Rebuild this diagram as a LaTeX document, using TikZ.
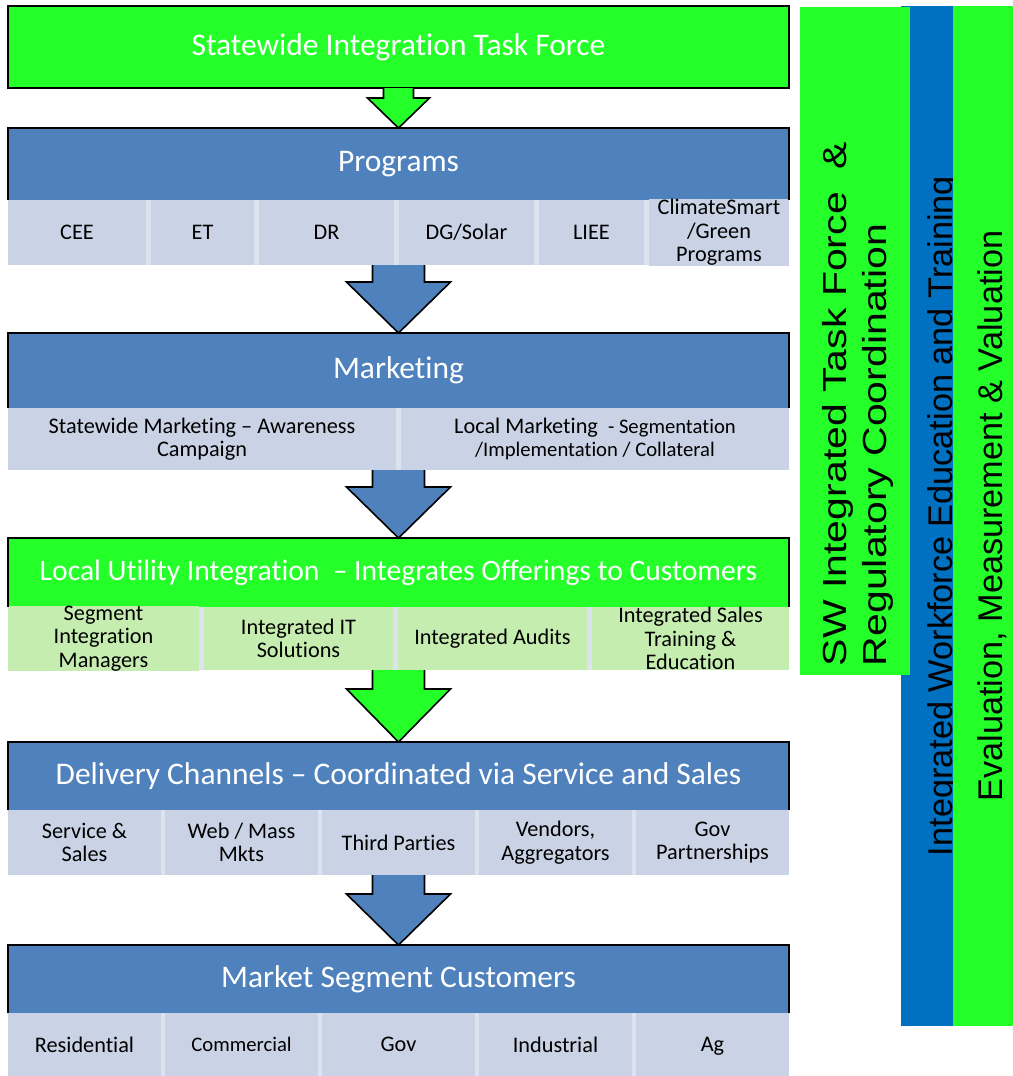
\documentclass[tikz,border=0pt]{standalone}
\usepackage{fontspec}
\setmainfont{Carlito}[Ligatures={TeX,NoCommon}]
\newfontfamily\barfont{Liberation Sans}
\newfontfamily\widebarfont[FakeStretch=1.23]{Liberation Sans}
\usetikzlibrary{calc}

\definecolor{hdrblue}{RGB}{79,129,189}
\definecolor{hdrgreen}{RGB}{36,255,42}
\definecolor{cellblue}{RGB}{202,211,229}
\definecolor{cellgreen}{RGB}{198,237,176}
\definecolor{cellgap}{RGB}{220,226,238}
\definecolor{barblue}{RGB}{0,112,192}

% block arrow: #2 row bottom, #3 box top, #4 shaft, #5 head (half widths), #6 head length
\newcommand{\blockarrow}[6]{%
\filldraw[#1] let \p1=(#2), \p2=(#3) in
  (\x2-#4*0.75pt,\y1) -- (\x2-#4*0.75pt,\y2+#6*0.75pt) -- (\x2-#5*0.75pt,\y2+#6*0.75pt)
  -- (\x2,\y2) -- (\x2+#5*0.75pt,\y2+#6*0.75pt) -- (\x2+#4*0.75pt,\y2+#6*0.75pt) -- (\x2+#4*0.75pt,\y1);}
% header frame, open at the bottom
\newcommand{\hdrframe}[1]{\draw (#1.south west) |- (#1.north east) -- (#1.south east);}

\begin{document}
\begin{tikzpicture}[x=0.75pt,y=-0.75pt,inner sep=0pt,outer sep=0pt,line width=1.2pt,
hdr/.style={fill=hdrblue,text=white,minimum width=585.75pt,minimum height=#1*0.75pt,font=\fontsize{23.6}{28}\selectfont},
cell/.style 2 args={fill=cellblue,align=center,minimum width=#1*0.75pt,minimum height=#2*0.75pt,font=\fontsize{16.7}{17.6}\selectfont},
gcell/.style 2 args={cell={#1}{#2},fill=cellgreen},
bluearrow/.style={draw=black,fill=hdrblue},
greenarrow/.style={draw=black,fill=hdrgreen},
bartext/.style={rotate=90,font=\barfont\fontsize{25.7}{30}\selectfont}]
\useasboundingbox (0,0) rectangle (1013,1076);

\draw (398.5,47) node[hdr=82,fill=hdrgreen,draw] (task) {Statewide Integration Task Force};

\draw (398.5,164) node[hdr=72] (prog) {Programs};
\fill[cellgap] (prog.south west) rectangle ++(781,65);
\draw (77,232.5) node[cell={138}{65}] (cee) {CEE};
\draw (202.5,232.5) node[cell={103}{65}] (et) {ET};
\draw (326.5,232.5) node[cell={135}{65}] (dr) {DR};
\draw (466.5,232.5) node[cell={135}{65}] (dg) {DG/Solar};
\draw (591.5,232.5) node[cell={105}{65}] (liee) {LIEE};
\draw (719,232.5) node[cell={140}{65}] (cs) {ClimateSmart\\/Green\\Programs};
\hdrframe{prog}

\draw (398.5,370.5) node[hdr=75] (mkt) {Marketing};
\fill[cellgap] (mkt.south west) rectangle ++(781,62);
\draw (202,439) node[cell={388}{62}] (swm) {Statewide Marketing -- Awareness\\Campaign};
\draw (595,439) node[cell={388}{62}] (lm) {Local Marketing\ \ {\fontsize{15.5}{17.6}\selectfont- Segmentation}\\\fontsize{15.5}{17.6}\selectfont/Implementation / Collateral};
\hdrframe{mkt}

\draw (398.5,572.5) node[hdr=69,fill=hdrgreen,font=\fontsize{22.2}{26}\selectfont] (lui) {Local Utility Integration\ \ -- Integrates Offerings to Customers};
\fill[cellgap] (lui.south west) rectangle ++(781,63);
\draw (103.5,638.5) node[gcell={191}{63}] (sim) {Segment\\Integration\\Managers};
\draw (298.5,638.5) node[gcell={189}{63}] (iit) {Integrated IT\\Solutions};
\draw (492.5,638.5) node[gcell={189}{63}] (ia) {Integrated Audits};
\draw (690.5,638.5) node[gcell={197}{63}] (ist) {Integrated Sales\\Training \&\\Education};
\hdrframe{lui}

\draw (398.5,776) node[hdr=68] (del) {Delivery Channels -- Coordinated via Service and Sales};
\fill[cellgap] (del.south west) rectangle ++(781,65);
\draw (84.5,842.5) node[cell={153}{65}] (sas) {Service \&\\Sales};
\draw (241.5,842.5) node[cell={153}{65}] (web) {Web / Mass\\Mkts};
\draw (398.5,842.5) node[cell={153}{65}] (tp) {Third Parties};
\draw (555.5,842.5) node[cell={153}{65}] (ven) {Vendors,\\Aggregators};
\draw (712.5,842.5) node[cell={153}{65}] (gov) {Gov\\Partnerships};
\hdrframe{del}

\draw (398.5,979) node[hdr=68] (seg) {Market Segment Customers};
\fill[cellgap] (seg.south west) rectangle ++(781,63);
\draw (84.5,1044.5) node[cell={153}{63}] (res) {Residential};
\draw (241.5,1044.5) node[cell={153}{63},font=\fontsize{15.5}{17}\selectfont] (com) {Commercial};
\draw (398.5,1044.5) node[cell={153}{63}] (sgov) {Gov};
\draw (555.5,1044.5) node[cell={153}{63}] (ind) {Industrial};
\draw (712.5,1044.5) node[cell={153}{63}] (ag) {A\smash{g}};
\hdrframe{seg}

\blockarrow{greenarrow}{task.south}{prog.north}{15}{31}{30}
\blockarrow{bluearrow}{dr.south}{mkt.north}{26}{52}{51}
\blockarrow{bluearrow}{swm.south}{lui.north}{26}{52}{51}
\blockarrow{greenarrow}{ia.south}{del.north}{26}{52}{53}
\blockarrow{bluearrow}{tp.south}{seg.north}{26}{52}{51}

% side bars
\fill[barblue] (901,6) rectangle (953,1026);
\node[bartext,anchor=base] (wet) at (952,516) {Integrated Workforce Education and Training};
\fill[hdrgreen] (953,6) rectangle (1013,1026);
\node[bartext,anchor=base] (emv) at (1002,516) {Evaluation, Measurement \& Valuation};
\fill[hdrgreen] (800,7) rectangle (910,675);
\node[bartext,anchor=west,align=left,font=\widebarfont\fontsize{25}{30}\selectfont] (swtf) at (858,666) {SW Integrated Task Force\ \ \&\\Regulatory Coordination};
\end{tikzpicture}
\end{document}
